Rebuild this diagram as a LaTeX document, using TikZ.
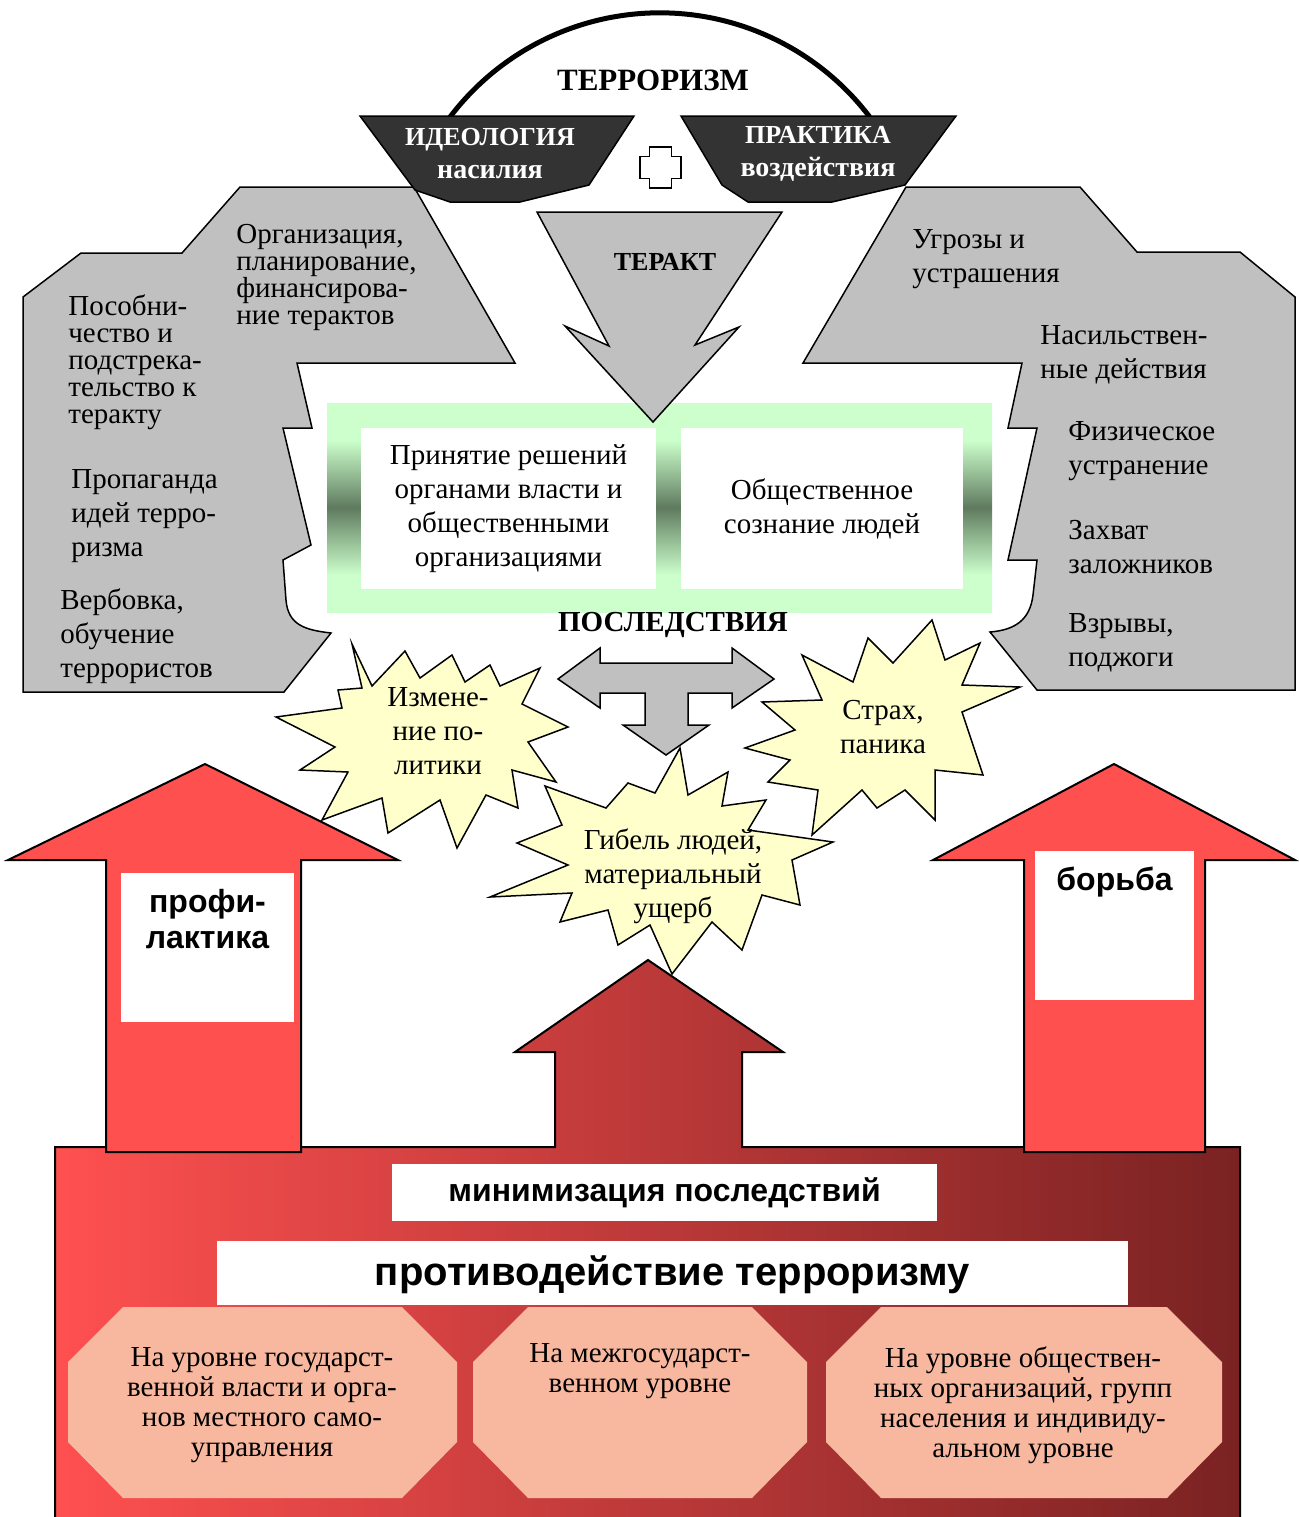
\documentclass[tikz,border=0pt]{standalone}
\usepackage{fontspec}
\setmainfont{Liberation Serif}
\setsansfont{Liberation Sans}
\usetikzlibrary{positioning}
\definecolor{shapegray}{HTML}{C0C0C0}
\definecolor{darkbox}{HTML}{333333}
\definecolor{framelight}{HTML}{CCFFCC}
\definecolor{framedark}{HTML}{5F7A5F}
\definecolor{burstfill}{HTML}{FFFFCC}
\definecolor{redarrow}{HTML}{FF5050}
\definecolor{redmid}{HTML}{C84444}
\definecolor{reddark}{HTML}{7A2222}
\definecolor{salmon}{HTML}{F8B8A0}
\pgfdeclareverticalshading{frameshade}{100bp}{color(0bp)=(framelight); color(34bp)=(framelight); color(50bp)=(framedark); color(66bp)=(framelight); color(100bp)=(framelight)}
\begin{document}
\begin{tikzpicture}[x=0.5pt,y=-0.5pt,
	every node/.style={inner sep=0,font=\fontsize{14.5}{17}\selectfont},
	lbl/.style={align=left,anchor=west},
	tight/.style={font=\fontsize{14.5}{13.5}\selectfont},
	ctr/.style={align=center},
	greyshape/.style={fill=shapegray,draw=black,line width=0.75pt},
	darkshape/.style={fill=darkbox,draw=black,line width=0.75pt},
	darktxt/.style={align=center,text=white,font=\fontsize{13}{16.5}\selectfont\bfseries},
	boom/.style={fill=burstfill,draw=black,line width=0.75pt},
	redarr/.style={fill=redarrow,draw=black,line width=1pt},
	whitebox/.style={fill=white},
	octa/.style={fill=salmon},
	octtxt/.style={align=center,font=\fontsize{14.5}{15}\selectfont},
	sanslbl/.style={align=center,font=\fontsize{16}{18}\selectfont\sffamily\bfseries}]
\useasboundingbox (0,0) rectangle (1299,1517);

\draw[line width=2.5pt] (450,117) arc[start angle=142.8,end angle=37.2,radius=131.75pt];
\node[font=\fontsize{15.5}{18}\selectfont\bfseries] (terror) at (653,80) {ТЕРРОРИЗМ};

\draw[greyshape] (240,187) -- (414,187) -- (515,363) -- (297,363) -- (312,428) -- (283,428) -- (311,545) -- (283,560) -- (286,600) .. controls (288,625) and (305,630) .. (331,633) -- (284,692) -- (23,692) -- (23,297) -- (81,253) -- (182,253) -- cycle;
\draw[greyshape] (906,187) -- (1080,187) -- (1137,252) -- (1240,252) -- (1295,297) -- (1295,690) -- (1037,690) -- (990,632) .. controls (1015,630) and (1030,620) .. (1033,595) -- (1037,560) -- (1008,560) -- (1037,428) -- (1008,428) -- (1022,363) -- (803,363) -- cycle;

\draw[darkshape] (360,116) -- (634,116) -- (589,185) -- (520,202) -- (450,202) -- (415,190) -- cycle;
\draw[darkshape] (681,116) -- (956,116) -- (905,185) -- (832,202) -- (748,202) -- (722,185) -- cycle;
\node[darktxt] (ideol) at (490,154) {ИДЕОЛОГИЯ\\{\fontsize{14}{16.5}\selectfont насилия}};
\node[darktxt] (pract) at (818,154) {ПРАКТИКА\\{\fontsize{14}{16.5}\selectfont воздействия}};
\draw[fill=white,line width=0.75pt] (649.5,147) -- (671.5,147) -- (671.5,156.5) -- (681,156.5) -- (681,178.5) -- (671.5,178.5) -- (671.5,188) -- (649.5,188) -- (649.5,178.5) -- (640,178.5) -- (640,156.5) -- (649.5,156.5) -- cycle;

\node[lbl,tight] (organ) at (236,277) {Организация,\\планирование,\\финансирова-\\ние терактов};
\node[lbl,tight] (aid) at (68,362) {Пособни-\\чество и\\подстрека-\\тельство к\\теракту};
\node[lbl] (propag) at (71,516) {Пропаганда\\идей терро-\\ризма};
\node[lbl] (recruit) at (60,636) {Вербовка,\\обучение\\террористов};
\node[lbl] (threat) at (912,259) {Угрозы и\\устрашения};
\node[lbl] (violence) at (1040,355) {Насильствен-\\ные действия};
\node[lbl] (phys) at (1068,451) {Физическое\\устранение};
\node[lbl] (hostage) at (1068,547) {Захват\\заложников};
\node[lbl] (blast) at (1068,643) {Взрывы,\\поджоги};

\shade[shading=frameshade] (327,403) rectangle (992,612);
\node[whitebox,ctr,minimum width=147.5pt,minimum height=80.5pt] (decision) at (508.5,508.5) {Принятие решений\\органами власти и\\общественными\\организациями};
\node[whitebox,ctr,minimum width=141pt,minimum height=80.5pt] (mind) at (822,508.5) {Общественное\\сознание людей};

\draw[greyshape] (537,212) -- (782,212) -- (695,345) -- (739,327) -- (653,422) -- (565,326) -- (609,346) -- cycle;
\node[font=\fontsize{13}{15}\selectfont\bfseries] (act) at (665,262) {ТЕРАКТ};
\node[font=\fontsize{14.5}{17}\selectfont\bfseries] (result) at (673,625) {ПОСЛЕДСТВИЯ};
\draw[greyshape] (558,679) -- (600,648) -- (600,663) -- (732,663) -- (732,648) -- (774,679) -- (732,708) -- (732,693) -- (688,693) -- (688,725) -- (709,725) -- (666,755) -- (623,725) -- (645,725) -- (645,693) -- (600,693) -- (600,708) -- cycle;

\shadedraw[left color=redarrow,middle color=redmid,right color=reddark,draw=black,line width=1pt] (55,1517) -- (55,1147) -- (555,1147) -- (555,1052) -- (515,1052) -- (648,960) -- (783,1052) -- (742,1052) -- (742,1147) -- (1240,1147) -- (1240,1517);
\draw[redarr] (106,1152) -- (106,860) -- (8,860) -- (205,764) -- (398,860) -- (301,860) -- (301,1152) -- cycle;
\draw[redarr] (1024,1152) -- (1024,860) -- (933,860) -- (1114,764) -- (1295,860) -- (1205,860) -- (1205,1152) -- cycle;
\node[whitebox,minimum width=86.5pt,minimum height=74.5pt] (prevbox) at (207.5,947.5) {};
\node[sanslbl,below=8pt of prevbox.north] (prevent) {профи-\\лактика};
\node[whitebox,minimum width=79.5pt,minimum height=74.5pt] (fightbox) at (1114.5,925.5) {};
\node[sanslbl,below=8pt of fightbox.north] (fight) {борьба};
\node[whitebox,sanslbl,minimum width=272.5pt,minimum height=28.5pt] (minim) at (664.5,1192.5) {минимизация последствий};
\node[whitebox,minimum width=455.5pt,minimum height=32pt,font=\fontsize{20}{24}\selectfont\sffamily\bfseries,text depth=2pt] (counter) at (672.5,1273) {противодействие терроризму};

\foreach \l/\r in {68/457,473/807,826/1222}
	\fill[octa] (\l+55,1307) -- (\r-55,1307) -- (\r,1362) -- (\r,1442) -- (\r-55,1498) -- (\l+55,1498) -- (\l,1442) -- (\l,1362) -- cycle;
\node[octtxt] (state) at (262,1405) {На уровне государст-\\венной власти и орга-\\нов местного само-\\управления};
\node[octtxt] (inter) at (640,1371) {На межгосударст-\\венном уровне};
\node[octtxt] (public) at (1023,1405) {На уровне обществен-\\ных организаций, групп\\населения и индивиду-\\альном уровне};

\draw[boom] (802,655) -- (853,682) -- (868,638) -- (893,663) -- (932,620) -- (945,660) -- (980,643) -- (962,685) -- (1020,687) -- (962,712) -- (983,775) -- (935,770) -- (935,820) -- (905,790) -- (877,808) -- (862,790) -- (812,835) -- (818,790) -- (768,782) -- (790,760) -- (745,748) -- (795,730) -- (762,702) -- (822,700) -- cycle;
\node[ctr] (fear) at (883,727) {Страх,\\паника};
\draw[boom] (352,644) -- (372,686) -- (405,651) -- (420,678) -- (452,655) -- (465,682) -- (490,665) -- (500,686) -- (540,668) -- (522,704) -- (568,727) -- (528,742) -- (556,782) -- (512,770) -- (518,808) -- (486,795) -- (457,848) -- (440,800) -- (388,833) -- (382,798) -- (322,820) -- (348,772) -- (300,770) -- (335,747) -- (276,717) -- (342,708) -- (338,690) -- (362,688) -- cycle;
\node[ctr] (policy) at (438,731) {Измене-\\ние по-\\литики};
\draw[boom] (680,748) -- (688,795) -- (728,772) -- (722,806) -- (766,800) -- (748,830) -- (833,842) -- (792,860) -- (800,905) -- (762,895) -- (742,950) -- (712,922) -- (672,974) -- (650,925) -- (618,945) -- (608,910) -- (560,922) -- (572,893) -- (490,897) -- (568,865) -- (517,843) -- (562,825) -- (545,786) -- (606,808) -- (628,783) -- (655,793) -- cycle;
\node[ctr] (loss) at (673,876) {Гибель людей,\\материальный\\ущерб};
\end{tikzpicture}
\end{document}
